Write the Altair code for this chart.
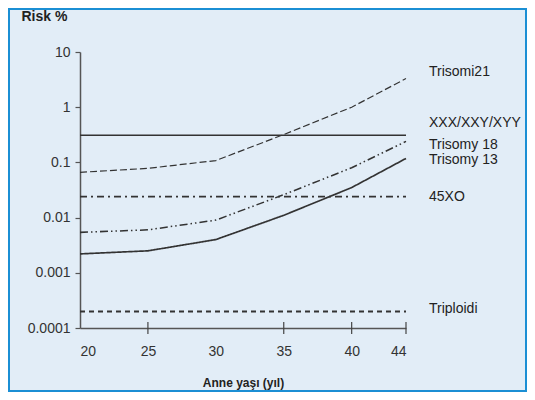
import altair as alt
import pandas as pd

# ---- data ----
ages = [20, 25, 30, 35, 40, 44]
trisomi21 = [0.066, 0.078, 0.108, 0.32, 1.0, 3.3]
xxx_xxy_xyy = [0.31, 0.31, 0.31, 0.31, 0.31, 0.31]
trisomy18 = [0.0054, 0.006, 0.009, 0.026, 0.08, 0.24]
trisomy13 = [0.0022, 0.0025, 0.004, 0.011, 0.035, 0.118]
xo45 = [0.024, 0.024, 0.024, 0.024, 0.024, 0.024]
triploidi = [0.0002, 0.0002, 0.0002, 0.0002, 0.0002, 0.0002]

series_names = ["Trisomi21", "XXX/XXY/XYY", "Trisomy 18", "Trisomy 13", "45XO", "Triploidi"]
series_values = [trisomi21, xxx_xxy_xyy, trisomy18, trisomy13, xo45, triploidi]

x_ticks = [20, 25, 30, 35, 40, 44]
x_cross_ticks = [25, 35, 40, 44]
y_ticks = [10, 1, 0.1, 0.01, 0.001, 0.0001]

# ---- styles ----
dashes = [[7, 3], [1, 0], [8, 3, 1.5, 3, 1.5, 3], [1, 0], [7, 4, 2, 4], [5, 4]]
widths = [1.2, 2.0, 1.2, 1.4, 1.2, 1.2]
label_dy = [-7, -12, 4, 2, 0, -2]

W, H = 326, 276
PAD_L, PAD_T = 72, 44
TOTAL_W, TOTAL_H = 519, 384
PAD_R = TOTAL_W - PAD_L - W
PAD_B = TOTAL_H - PAD_T - H
BG = "#e2edf7"
BORDER = "#1b8fd4"
INK = "#333333"

rows = []
for name, vals in zip(series_names, series_values):
    for a, v in zip(ages, vals):
        rows.append({"series": name, "age": a, "risk": v})
df = pd.DataFrame(rows)

xscale = alt.Scale(domain=[20, 44], nice=False, zero=False)
yscale = alt.Scale(type="log", domain=[0.0001, 10], nice=False)

x_axis = alt.Axis(
    values=x_ticks, ticks=False, tickSize=5, labelPadding=23, labelBaseline="middle",
    title="Anne yaşı (yıl)", titleFontWeight="bold", titleFontSize=12,
    titleColor="#222", titleY=54, titleBaseline="middle",
    domainColor="#555", domainWidth=1.5,
)
y_axis = alt.Axis(
    values=y_ticks, format="~g", tickSize=5, tickColor="#555", tickWidth=1.2,
    labelPadding=5, title="Risk %", titleAngle=0, titleAlign="left",
    titleX=-59, titleY=-36, titleBaseline="middle", titleFontWeight="bold",
    titleFontSize=14, titleColor="#222",
    domainColor="#555", domainWidth=1.5,
)

lines = alt.Chart(df).mark_line(color=INK).encode(
    x=alt.X("age:Q", scale=xscale, axis=x_axis),
    y=alt.Y("risk:Q", scale=yscale, axis=y_axis),
    detail="series:N",
    strokeDash=alt.StrokeDash("series:N", scale=alt.Scale(domain=series_names, range=dashes), legend=None),
    strokeWidth=alt.StrokeWidth("series:N", scale=alt.Scale(domain=series_names, range=widths), legend=None),
)

ticks = alt.Chart(pd.DataFrame({"age": x_cross_ticks})).mark_rule(color="#444", strokeWidth=1.2).encode(
    x=alt.X("age:Q"), y=alt.value(H - 6), y2=alt.value(H + 6)
)

label_layers = []
for name, vals, dy in zip(series_names, series_values, label_dy):
    ldf = pd.DataFrame({"age": [ages[-1]], "risk": [vals[-1]], "label": [name]})
    label_layers.append(
        alt.Chart(ldf).mark_text(
            align="left", baseline="middle", dx=23, dy=dy,
            font="Liberation Sans", fontSize=14, color="#222",
        ).encode(x="age:Q", y="risk:Q", text="label:N")
    )

border = alt.Chart(pd.DataFrame({"k": [0]})).mark_rect(
    fill=None, stroke=BORDER, strokeWidth=2
).encode(
    x=alt.value(-PAD_L + 1), x2=alt.value(W + PAD_R - 1),
    y=alt.value(-PAD_T + 1), y2=alt.value(H + PAD_B - 1),
)

chart = alt.layer(border, lines, ticks, *label_layers).properties(
    width=W, height=H,
    autosize=alt.AutoSizeParams(type="none"),
    padding={"left": PAD_L, "top": PAD_T, "right": PAD_R, "bottom": PAD_B},
    background=BG,
).configure_view(stroke=None).configure_axis(
    grid=False, labelFont="Liberation Sans", labelFontSize=14, labelColor=INK,
    titleFont="Liberation Sans",
)

chart.save("out.html", embed_options={"renderer": "svg", "actions": False})
